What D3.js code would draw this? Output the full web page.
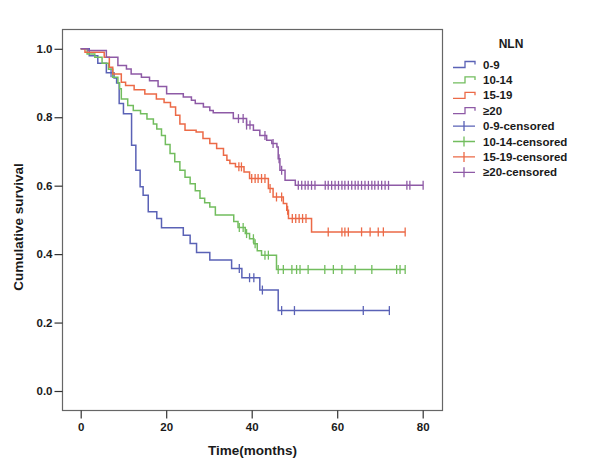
<!DOCTYPE html>
<html>
<head>
<meta charset="utf-8">
<script src="https://cdn.jsdelivr.net/npm/d3@7"></script>
<style>
  html, body { margin: 0; padding: 0; background: #fff; }
  svg text { font-family: "Liberation Sans", Arial, sans-serif; font-weight: bold; fill: #1a1a1a; }
</style>
</head>
<body>
<svg id="chart" width="589" height="470"></svg>
<script>
// ---------- data ----------
const groupNames = ["0-9", "10-14", "15-19", "≥20"];
const legendLabels = ["0-9", "10-14", "15-19", "≥20", "0-9-censored", "10-14-censored", "15-19-censored", "≥20-censored"];
const xTicks = [0, 20, 40, 60, 80];
const yTicks = [0.0, 0.2, 0.4, 0.6, 0.8, 1.0];

// 0-9
const g1Times = [2, 4, 6, 7.8, 8.4, 9, 10, 11.9, 12.9, 13.9, 14.6, 15.8, 17.8, 18.9, 24.0, 25.6, 27.1, 30.2, 35.3, 37.7, 41.9, 46.2];
const g1Surv  = [0.98, 0.958, 0.93, 0.915, 0.90, 0.84, 0.81, 0.718, 0.645, 0.597, 0.572, 0.524, 0.504, 0.477, 0.455, 0.431, 0.405, 0.383, 0.358, 0.331, 0.295, 0.235];
const g1Censor = [7.1, 37.1, 39.5, 40.5, 42.5, 47.0, 50.0, 66.1, 72.2];
const g1End = 72.2;

// 10-14
const g2Times = [1.5, 3.3, 5, 6.5, 7.5, 8.7, 9.1, 9.5, 11, 12.3, 14, 15.5, 17, 17.8, 18.9, 19.8, 20.9, 22, 23.2, 24.4, 25.6, 26.8, 27.9, 29, 30.2, 31.5, 35.8, 36.8, 38.5, 39.5, 40.5, 41.3, 42.3, 45.8];
const g2Surv  = [0.985, 0.975, 0.958, 0.94, 0.917, 0.90, 0.883, 0.853, 0.834, 0.82, 0.81, 0.795, 0.78, 0.766, 0.747, 0.72, 0.694, 0.67, 0.645, 0.625, 0.606, 0.585, 0.563, 0.55, 0.538, 0.514, 0.495, 0.478, 0.46, 0.445, 0.43, 0.41, 0.397, 0.355];
const g2Censor = [37.1, 38.0, 38.8, 40.4, 40.8, 43.1, 43.9, 46.2, 47.4, 49.4, 50.5, 51.3, 53.2, 57.1, 59.1, 61.1, 64.2, 68.1, 73.9, 74.7, 75.9];
const g2End = 75.9;

// 15-19
const g3Times = [1, 5.5, 6.7, 7.5, 9.5, 10.5, 12.5, 15, 17.7, 19.5, 21, 22.2, 23.2, 24.4, 27, 28.6, 30.2, 31.8, 33.4, 34.2, 34.9, 36.2, 38.2, 39.5, 43.9, 45.0, 47.4, 48.2, 48.6, 54.0];
const g3Surv  = [0.99, 0.975, 0.946, 0.926, 0.902, 0.893, 0.88, 0.868, 0.853, 0.843, 0.83, 0.806, 0.78, 0.762, 0.757, 0.738, 0.723, 0.709, 0.689, 0.674, 0.665, 0.655, 0.64, 0.621, 0.592, 0.567, 0.548, 0.528, 0.504, 0.465];
const g3Censor = [37.0, 37.6, 40.0, 40.8, 41.5, 42.3, 43.1, 44.3, 45.8, 47.0, 48.4, 49.5, 50.3, 51.1, 51.9, 52.7, 57.9, 61.1, 61.8, 62.6, 65.7, 67.7, 69.6, 70.8, 75.9];
const g3End = 75.9;

// >=20
const g4Times = [1.7, 6, 8.7, 10.7, 11.8, 14.2, 16.1, 18.1, 20.1, 24.0, 25.9, 26.8, 28.7, 30.2, 31.0, 35.7, 38.8, 40.4, 41.9, 43.5, 44.7, 45.9, 46.2, 46.6, 47.8, 50.2];
const g4Surv  = [0.995, 0.975, 0.951, 0.941, 0.926, 0.917, 0.907, 0.89, 0.869, 0.859, 0.85, 0.84, 0.83, 0.82, 0.813, 0.796, 0.777, 0.762, 0.747, 0.733, 0.723, 0.713, 0.679, 0.645, 0.616, 0.601];
const g4Censor = [36.9, 38.0, 38.8, 39.6, 43.1, 45.0, 46.4, 47.0, 50.9, 51.7, 52.5, 53.2, 54.0, 54.8, 57.2, 57.9, 58.7, 59.5, 60.3, 61.1, 61.8, 62.6, 63.4, 64.2, 64.9, 65.7, 66.5, 67.3, 68.1, 68.8, 69.6, 70.4, 71.2, 72.0, 76.3, 77.0, 80.1];
const g4End = 80.1;

const colors = ["#5a62b6", "#72bd5e", "#ec6a47", "#8e5aa6"];

// ---------- layout ----------
const svg = d3.select("#chart");
const frame = { left: 62.5, right: 442.5, top: 29.5, bottom: 410.5 };
const x = d3.scaleLinear().domain([0, 80]).range([80.7, 422.7]);
const y = d3.scaleLinear().domain([0, 1]).range([391, 48.8]);

const groups = [
  { times: g1Times, surv: g1Surv, censor: g1Censor, end: g1End },
  { times: g2Times, surv: g2Surv, censor: g2Censor, end: g2End },
  { times: g3Times, surv: g3Surv, censor: g3Censor, end: g3End },
  { times: g4Times, surv: g4Surv, censor: g4Censor, end: g4End }
];

// frame
svg.append("rect")
  .attr("x", frame.left).attr("y", frame.top)
  .attr("width", frame.right - frame.left).attr("height", frame.bottom - frame.top)
  .attr("fill", "none").attr("stroke", "#666").attr("stroke-width", 1.2);

// axes
const xAxis = d3.axisBottom(x).tickValues(xTicks).tickFormat(d3.format("d")).tickSize(8).tickSizeOuter(0).tickPadding(4);
const gx = svg.append("g").attr("transform", `translate(0,${frame.bottom})`).call(xAxis);
gx.select(".domain").remove();
gx.selectAll("line").attr("stroke", "#333").attr("stroke-width", 1.2);
gx.selectAll("text").attr("font-size", 11.5).style("font-weight", "bold");

const yAxis = d3.axisLeft(y).tickValues(yTicks).tickFormat(d3.format(".1f")).tickSize(8).tickSizeOuter(0).tickPadding(2);
const gy = svg.append("g").attr("transform", `translate(${frame.left},0)`).call(yAxis);
gy.select(".domain").remove();
gy.selectAll("line").attr("stroke", "#333").attr("stroke-width", 1.2);
gy.selectAll("text").attr("font-size", 11.5).style("font-weight", "bold");

// axis titles
svg.append("text").attr("x", 252.5).attr("y", 455).attr("text-anchor", "middle")
  .attr("font-size", 13.5).text("Time(months)");
svg.append("text").attr("transform", "translate(23,227) rotate(-90)").attr("text-anchor", "middle")
  .attr("font-size", 13.5).text("Cumulative survival");

// curves
const line = d3.line().x(d => x(d[0])).y(d => y(d[1])).curve(d3.curveStepAfter);
function survAt(g, t) {
  let s = 1;
  for (let i = 0; i < g.times.length; i++) if (g.times[i] <= t) s = g.surv[i];
  return s;
}
groups.forEach((g, i) => {
  const pts = [[0, 1]];
  g.times.forEach((t, k) => pts.push([t, g.surv[k]]));
  pts.push([g.end, g.surv[g.surv.length - 1]]);
  svg.append("path").attr("d", line(pts)).attr("fill", "none")
    .attr("stroke", colors[i]).attr("stroke-width", 1.5);
  svg.append("g").selectAll("line").data(g.censor).join("line")
    .attr("x1", d => x(d)).attr("x2", d => x(d))
    .attr("y1", d => y(survAt(g, d)) - 4.5).attr("y2", d => y(survAt(g, d)) + 4.5)
    .attr("stroke", colors[i]).attr("stroke-width", 1.3);
});

// legend
svg.append("text").attr("x", 511).attr("y", 47.5).attr("text-anchor", "middle")
  .attr("font-size", 12).text("NLN");
legendLabels.forEach((lab, i) => {
  const cy = 64.5 + i * 15.4;
  const c = colors[i % 4];
  if (i < 4) {
    svg.append("path")
      .attr("d", `M453,${cy + 3}H465V${cy - 3}H475V${cy}`)
      .attr("fill", "none").attr("stroke", c).attr("stroke-width", 1.3);
  } else {
    svg.append("path")
      .attr("d", `M453,${cy}H475M464,${cy - 5}V${cy + 5}`)
      .attr("fill", "none").attr("stroke", c).attr("stroke-width", 1.3);
  }
  svg.append("text").attr("x", 483).attr("y", cy + 4).attr("font-size", 11.5).text(lab);
});
</script>
</body>
</html>
